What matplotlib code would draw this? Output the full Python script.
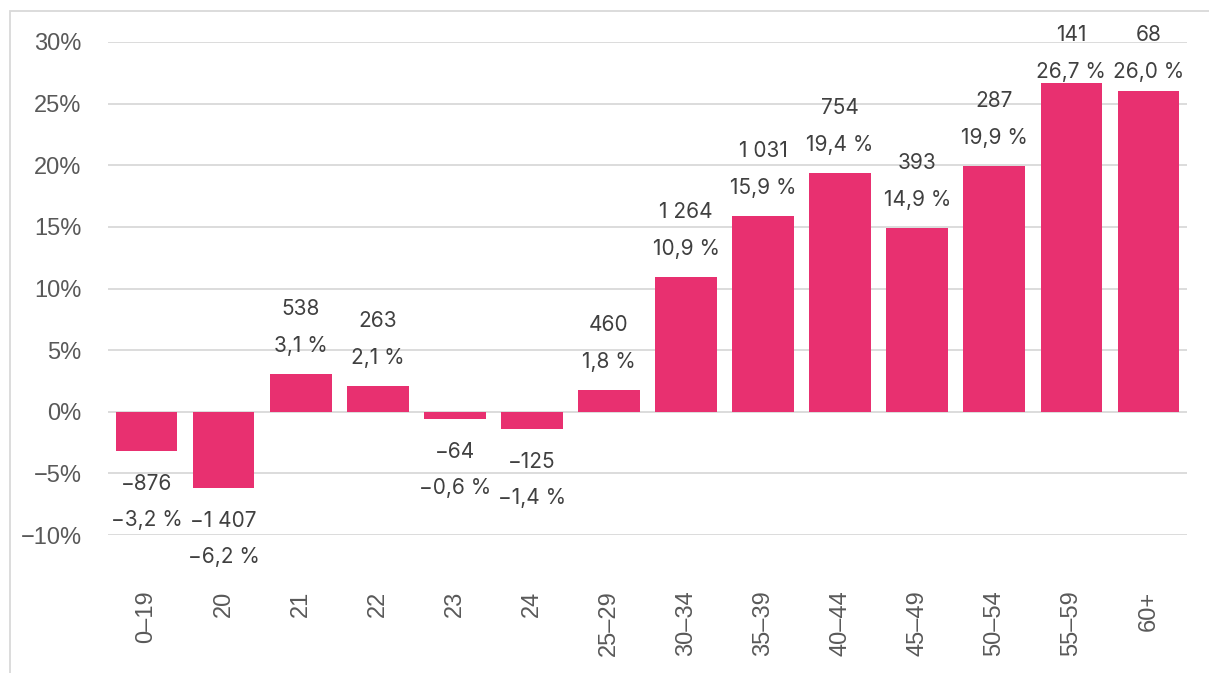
import matplotlib
matplotlib.use("Agg")
import matplotlib.pyplot as plt
from matplotlib.patches import Rectangle
import numpy as np

categories = ["0–19", "20", "21", "22", "23", "24", "25–29", "30–34", "35–39",
              "40–44", "45–49", "50–54", "55–59", "60+"]
counts = [-876, -1407, 538, 263, -64, -125, 460, 1264, 1031, 754, 393, 287, 141, 68]
pcts = [-3.2, -6.2, 3.1, 2.1, -0.6, -1.4, 1.8, 10.9, 15.9, 19.4, 14.9, 19.9, 26.7, 26.0]
yticks = [-10, -5, 0, 5, 10, 15, 20, 25, 30]

BAR = "#E83070"
GRID = "#D9D9D9"
LBL = "#404040"
TICK = "#595959"
W, H = 1209, 673

fig = plt.figure(figsize=(W / 100, H / 100), dpi=100)
fig.patch.set_facecolor("white")
fig.patches.append(Rectangle((10 / W, -0.1), 1.2, 1.1 - 11 / H, transform=fig.transFigure,
                             fill=False, edgecolor=GRID, linewidth=1.3))

ax = fig.add_axes([108 / W, 1 - 535 / H, (1187 - 108) / W, (535 - 42) / H])
x = np.arange(len(categories))
ax.bar(x, pcts, width=0.8, color=BAR, zorder=3)
ax.set_xlim(-0.5, len(categories) - 0.5)
ax.set_ylim(-10, 30)
ax.set_yticks(yticks)
ax.set_yticklabels([f"{v}%".replace("-", "−") for v in yticks])
ax.yaxis.grid(True, color=GRID, linewidth=1.3, zorder=0)
for s in ax.spines.values():
    s.set_visible(False)
ax.tick_params(axis="y", length=0, pad=19, labelsize=17, labelcolor=TICK)
ax.tick_params(axis="x", length=0, pad=40, labelsize=17, labelcolor=TICK)
for lab in ax.get_yticklabels():
    lab.set_fontfamily("Liberation Sans")
ax.set_xticks(x)
ax.set_xticklabels(categories, rotation=90, fontfamily="Liberation Sans", va="top")


def fmt_count(c):
    s = f"{abs(c):,}".replace(",", "\u00a0")
    return ("−" if c < 0 else "") + s


def fmt_pct(p):
    s = f"{abs(p):.1f}".replace(".", ",") + "\u00a0%"
    return ("−" if p < 0 else "") + s


px = 0.72  # points per pixel at dpi 100
fs = 15
fam = ["Inter", "DejaVu Sans"]
to_px = (535 - 42) / 40.0  # pixels per percent
for xi, c, p in zip(x, counts, pcts):
    if p >= 0:
        bar_top_px = 412 - p * to_px
        count_y = bar_top_px - 65
        shift = max(0, 35 - count_y)
        off_pct = 28 - shift
        off_cnt = 65 - shift
        ax.annotate(fmt_pct(p), (xi, p), xytext=(0, off_pct * px), textcoords="offset points",
                    ha="center", va="center", fontsize=fs, color=LBL, family=fam, zorder=4)
        ax.annotate(fmt_count(c), (xi, p), xytext=(0, off_cnt * px), textcoords="offset points",
                    ha="center", va="center", fontsize=fs, color=LBL, family=fam, zorder=4,
                    annotation_clip=False)
    else:
        ax.annotate(fmt_count(c), (xi, p), xytext=(0, -33 * px), textcoords="offset points",
                    ha="center", va="center", fontsize=fs, color=LBL, family=fam, zorder=4)
        ax.annotate(fmt_pct(p), (xi, p), xytext=(0, -69 * px), textcoords="offset points",
                    ha="center", va="center", fontsize=fs, color=LBL, family=fam, zorder=4,
                    annotation_clip=False)

fig.savefig("out.png", dpi=100)
